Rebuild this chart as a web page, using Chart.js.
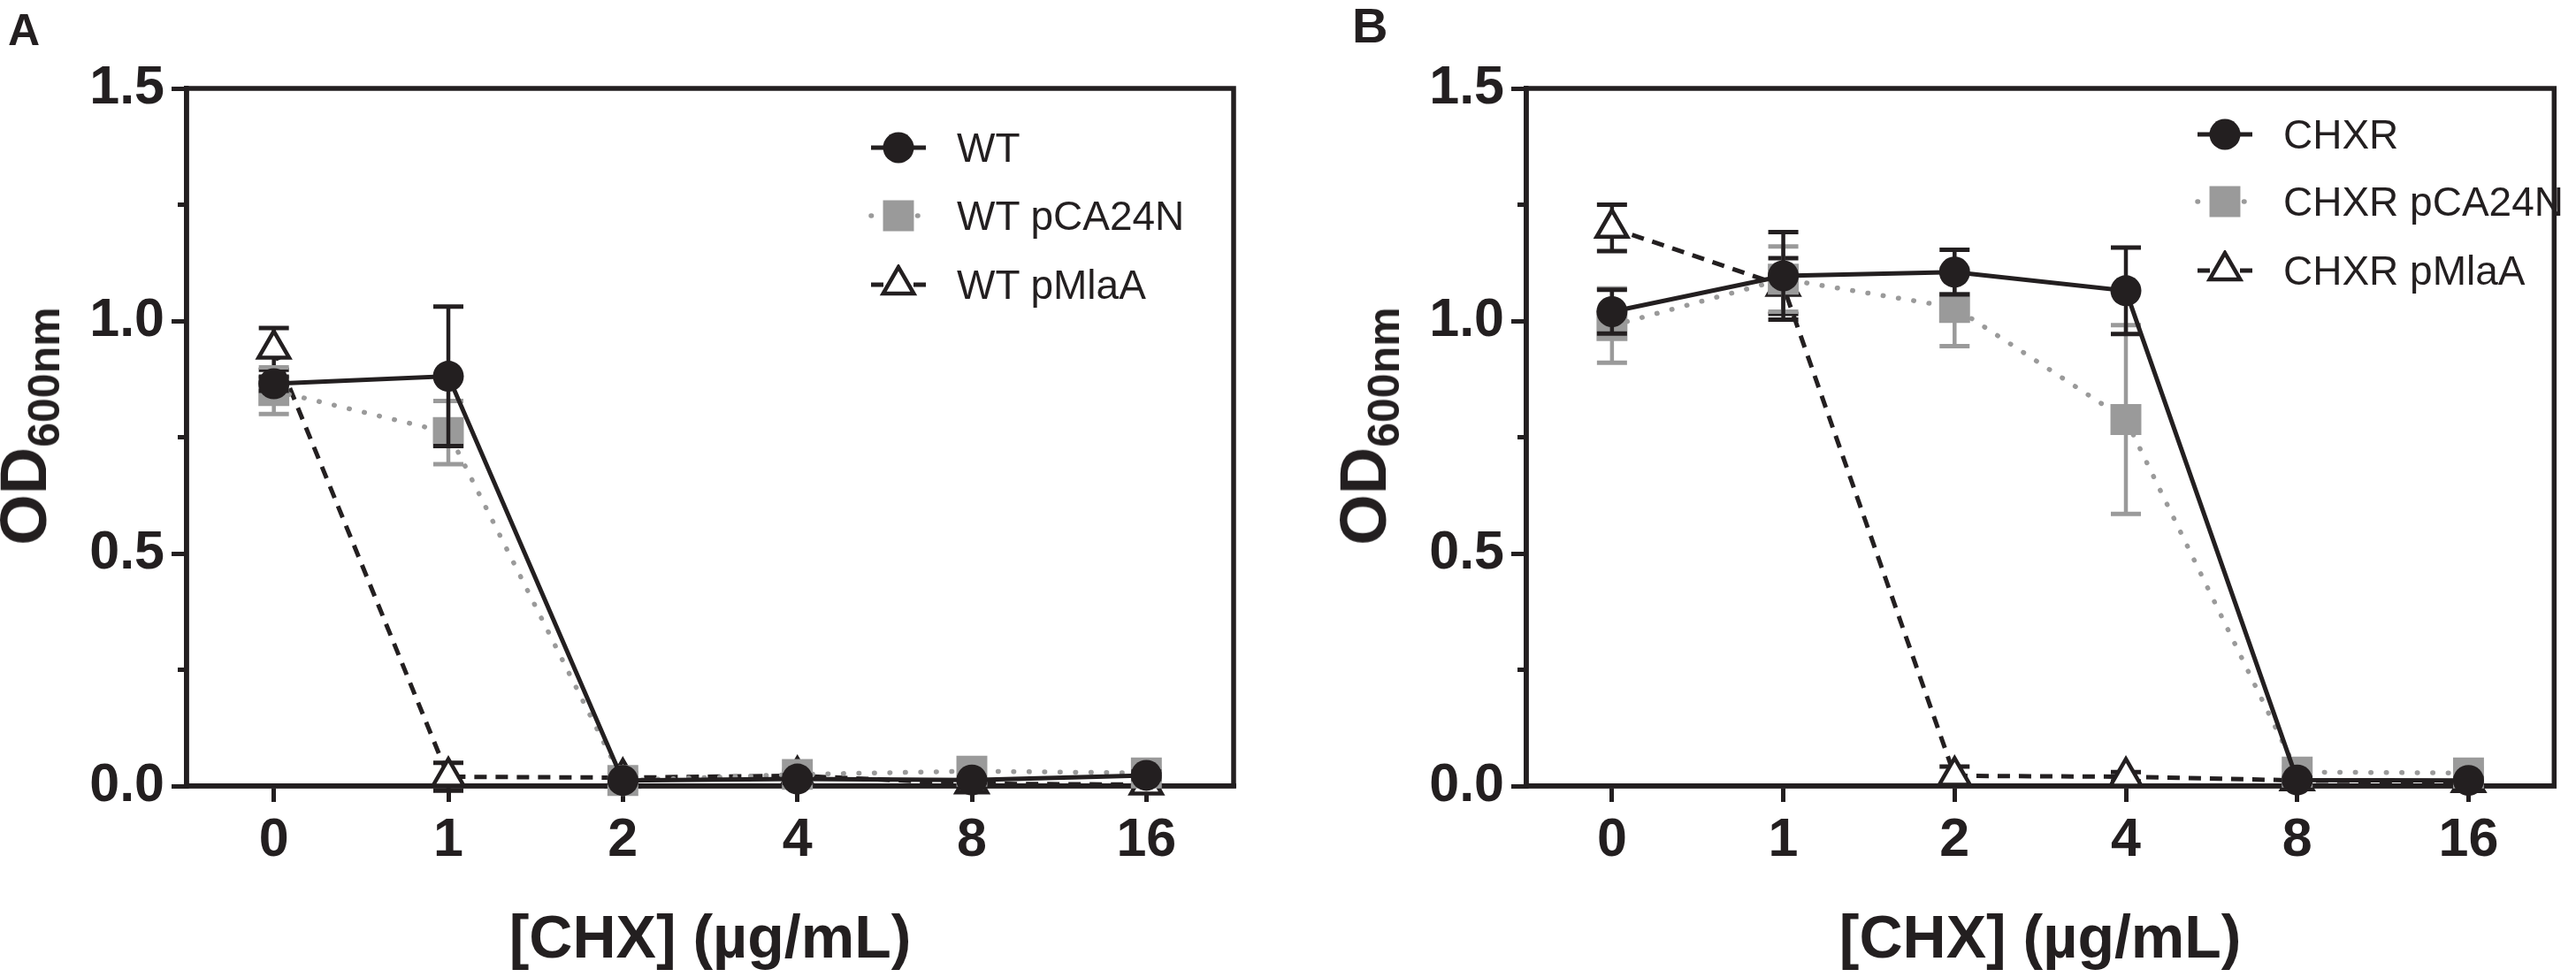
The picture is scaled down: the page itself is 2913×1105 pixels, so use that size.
<!DOCTYPE html>
<html>
<head>
<meta charset="utf-8">
<title>OD600 vs CHX</title>
<script src="https://cdn.jsdelivr.net/npm/chart.js@4.4.1/dist/chart.umd.min.js"></script>
<style>
  body { margin: 0; background: #fff; }
  #page { position: relative; width: 2913px; height: 1105px; overflow: hidden; background: #fff; }
  .panel { position: absolute; top: 0; height: 1105px; }
  .letter { position: absolute; font: bold 50px 'Liberation Sans', Arial, sans-serif; line-height: 1; color: #231f20; }
  .ytitle { position: absolute; transform: translate(-50%, -50%) rotate(-90deg);
            font: bold 74px 'Liberation Sans', Arial, sans-serif; line-height: 1; white-space: nowrap; color: #231f20; }
  .ytitle .sub { font-size: 50px; position: relative; top: 15px; }
  .legend-row { position: absolute; height: 46px; display: flex; align-items: center; }
  .legend-row span { font: 46px 'Liberation Sans', Arial, sans-serif; line-height: 46px; color: #231f20; white-space: nowrap; }
</style>
</head>
<body>
<div id="page">
  <div class="panel" style="left:0; width:1456px;"><canvas id="chartA" width="1456" height="1105"></canvas></div>
  <div class="panel" style="left:1456px; width:1457px;"><canvas id="chartB" width="1457" height="1105"></canvas></div>

  <div class="letter" style="left:9px; top:9px;">A</div>
  <div class="letter" style="left:1529px; top:1px; font-size:56px;">B</div>

  <div class="ytitle" style="left:27px; top:482px;">OD<span class="sub">600nm</span></div>
  <div class="ytitle" style="left:1542px; top:482px;">OD<span class="sub">600nm</span></div>

  <div id="legendA"></div>
  <div id="legendB"></div>
</div>

<script>
// x categories: CHX concentration (µg/mL)
const concentrations = ['0', '1', '2', '4', '8', '16'];
const yTicks = [0, 0.5, 1.0, 1.5];
const yMinorTicks = [0.25, 0.75, 1.25];

// Panel A
const namesA = ['WT', 'WT pCA24N', 'WT pMlaA'];
const wtMean = [0.865, 0.881, 0.012, 0.015, 0.013, 0.023];
const wtSd = [0.015, 0.15, 0.005, 0.008, 0.005, 0.008];
const wtPcaMean = [0.85, 0.76, 0.012, 0.025, 0.032, 0.028];
const wtPcaSd = [0.05, 0.068, 0.01, 0.01, 0.008, 0.01];
const wtMlaMean = [0.94, 0.02, 0.018, 0.022, 0.005, 0.003];
const wtMlaSd = [0.045, 0.03, 0.01, 0.01, 0.01, 0.012];

// Panel B
const namesB = ['CHXR', 'CHXR pCA24N', 'CHXR pMlaA'];
const chxrMean = [1.02, 1.097, 1.105, 1.065, 0.013, 0.012];
const chxrSd = [0.047, 0.094, 0.048, 0.093, 0.005, 0.005];
const chxrPcaMean = [0.99, 1.09, 1.029, 0.788, 0.03, 0.028];
const chxrPcaSd = [0.08, 0.07, 0.083, 0.203, 0.01, 0.01];
const chxrMlaMean = [1.2, 1.075, 0.022, 0.02, 0.012, 0.008];
const chxrMlaSd = [0.05, 0.06, 0.02, 0.01, 0.01, 0.01];

const ink = '#231f20';
const grey = '#9a9a9a';
const family = "'Liberation Sans', Arial, Helvetica, sans-serif";

// series look: solid circles, dotted grey squares, dashed open triangles
function makeDatasets(names, means, sds) {
  return [
    {
      label: names[0], data: means[0], sd: sds[0], errorColor: ink,
      borderColor: ink, borderWidth: 5, borderDash: [],
      pointStyle: 'circle', pointRadius: 17.5, pointBackgroundColor: ink, pointBorderColor: ink, pointBorderWidth: 0
    },
    {
      label: names[1], data: means[1], sd: sds[1], errorColor: grey,
      borderColor: grey, borderWidth: 5.5, borderDash: [0.5, 17], borderCapStyle: 'round',
      pointStyle: 'rect', pointRadius: 24.7, pointBackgroundColor: grey, pointBorderColor: grey, pointBorderWidth: 0
    },
    {
      label: names[2], data: means[2], sd: sds[2], errorColor: ink,
      borderColor: ink, borderWidth: 5, borderDash: [14, 10],
      pointStyle: 'triangle', pointRadius: 20, pointBackgroundColor: '#ffffff', pointBorderColor: ink, pointBorderWidth: 4.5
    }
  ].map(ds => Object.assign(ds, { tension: 0, clip: false, fill: false }));
}

// error bars (mean ± SD) under each dataset's own markers
const errorBars = {
  id: 'errorBars',
  beforeDatasetDraw(chart, args) {
    const ds = chart.data.datasets[args.index];
    if (!ds.sd) return;
    const ctx = chart.ctx;
    const y = chart.scales.y;
    ctx.save();
    ctx.strokeStyle = ds.errorColor;
    args.meta.data.forEach((pt, i) => {
      const top = y.getPixelForValue(ds.data[i] + ds.sd[i]);
      const bot = y.getPixelForValue(ds.data[i] - ds.sd[i]);
      ctx.lineWidth = 4.5;
      ctx.beginPath();
      ctx.moveTo(pt.x, top);
      ctx.lineTo(pt.x, bot);
      ctx.stroke();
      ctx.lineWidth = 5;
      ctx.beginPath();
      ctx.moveTo(pt.x - 17, top); ctx.lineTo(pt.x + 17, top);
      ctx.moveTo(pt.x - 17, bot); ctx.lineTo(pt.x + 17, bot);
      ctx.stroke();
    });
    ctx.restore();
  }
};

// closed frame round the plot plus short minor ticks on y
const frame = {
  id: 'frame',
  beforeDatasetsDraw(chart) {
    const { ctx, chartArea: a, scales: { y } } = chart;
    ctx.save();
    ctx.strokeStyle = ink;
    ctx.lineWidth = 5.5;
    ctx.strokeRect(a.left, a.top, a.right - a.left, a.bottom - a.top);
    ctx.lineWidth = 5;
    yMinorTicks.forEach(v => {
      const py = y.getPixelForValue(v);
      ctx.beginPath();
      ctx.moveTo(a.left - 10, py);
      ctx.lineTo(a.left, py);
      ctx.stroke();
    });
    ctx.restore();
  }
};

function makeOptions(yWidth, padRight) {
  return {
    responsive: false,
    animation: false,
    events: [],
    layout: { padding: { left: 0, top: 100, right: padRight, bottom: 0 } },
    plugins: { legend: { display: false }, tooltip: { enabled: false } },
    scales: {
      x: {
        type: 'category',
        offset: true,
        grid: { display: true, offset: false, drawOnChartArea: false, drawTicks: true, tickLength: 18, lineWidth: 5, color: ink },
        border: { display: true, width: 5.5, color: ink },
        ticks: { color: ink, padding: 8, maxRotation: 0, font: { family, size: 61, weight: 'bold' } },
        title: { display: true, text: '[CHX] (µg/mL)', color: ink, padding: { top: 0, bottom: 0 },
                 font: { family, size: 68, weight: 'bold' } },
        afterFit: s => { s.height = 216; }
      },
      y: {
        min: 0, max: 1.5,
        afterBuildTicks: s => { s.ticks = yTicks.map(v => ({ value: v })); },
        grid: { display: true, drawOnChartArea: false, drawTicks: true, tickLength: 17, lineWidth: 5, color: ink },
        border: { display: true, width: 5.5, color: ink },
        ticks: { color: ink, padding: 8, callback: v => Number(v).toFixed(1),
                 font: { family, size: 61, weight: 'bold' } },
        afterFit: s => { s.width = yWidth; }
      }
    }
  };
}

const chartA = new Chart(document.getElementById('chartA'), {
  type: 'line',
  data: {
    labels: concentrations,
    datasets: makeDatasets(namesA, [wtMean, wtPcaMean, wtMlaMean], [wtSd, wtPcaSd, wtMlaSd])
  },
  options: makeOptions(211, 61),
  plugins: [frame, errorBars]
});

const chartB = new Chart(document.getElementById('chartB'), {
  type: 'line',
  data: {
    labels: concentrations,
    datasets: makeDatasets(namesB, [chxrMean, chxrPcaMean, chxrMlaMean], [chxrSd, chxrPcaSd, chxrMlaSd])
  },
  options: makeOptions(270, 6),
  plugins: [frame, errorBars]
});

// legend: line segment + marker, then the series name
function buildLegend(holderId, chart, left, rowCenters) {
  const holder = document.getElementById(holderId);
  chart.data.datasets.forEach((ds, i) => {
    const row = document.createElement('div');
    row.className = 'legend-row';
    row.style.left = left + 'px';
    row.style.top = (rowCenters[i] - 23) + 'px';
    const icon = document.createElement('canvas');
    icon.width = 80; icon.height = 46;
    const ctx = icon.getContext('2d');
    ctx.strokeStyle = ds.borderColor;
    ctx.lineWidth = ds.borderWidth;
    ctx.lineCap = ds.borderCapStyle || 'butt';
    ctx.setLineDash(ds.borderDash || []);
    ctx.beginPath(); ctx.moveTo(9, 23); ctx.lineTo(71, 23); ctx.stroke();
    ctx.setLineDash([]);
    ctx.fillStyle = ds.pointBackgroundColor;
    ctx.strokeStyle = ds.pointBorderColor;
    ctx.lineWidth = ds.pointBorderWidth;
    Chart.helpers.drawPoint(ctx, { pointStyle: ds.pointStyle, radius: ds.pointRadius, borderWidth: ds.pointBorderWidth, rotation: 0 }, 40, 23);
    const text = document.createElement('span');
    text.textContent = ds.label;
    text.style.marginLeft = '26px';
    row.appendChild(icon);
    row.appendChild(text);
    holder.appendChild(row);
  });
}

buildLegend('legendA', chartA, 976, [167, 244, 322]);
buildLegend('legendB', chartB, 2476, [152, 228, 306]);
</script>
</body>
</html>
